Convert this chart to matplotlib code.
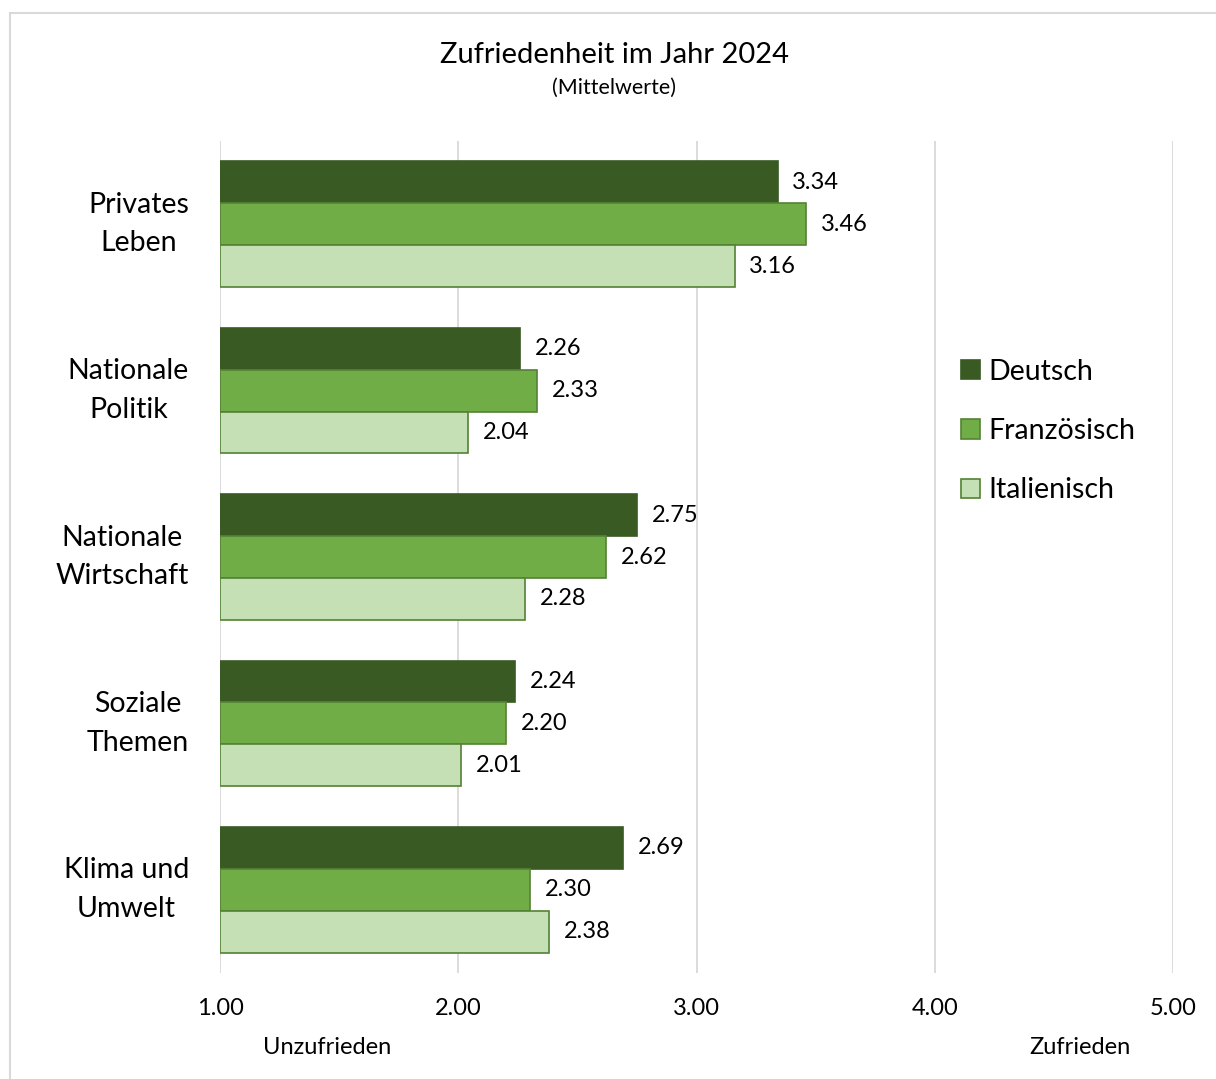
import matplotlib.pyplot as plt
import matplotlib.transforms as mtransforms
import numpy as np
from matplotlib.patches import Rectangle

plt.rcParams['font.family'] = ['Lato', 'DejaVu Sans']

categories = ["Privates\nLeben", "Nationale\nPolitik", "Nationale\nWirtschaft",
              "Soziale\nThemen", "Klima und\nUmwelt"]
series = ["Deutsch", "Französisch", "Italienisch"]
deutsch = [3.34, 2.26, 2.75, 2.24, 2.69]
franz = [3.46, 2.33, 2.62, 2.20, 2.30]
ital = [3.16, 2.04, 2.28, 2.01, 2.38]
xticks = [1.0, 2.0, 3.0, 4.0, 5.0]

colors = ["#3A5A24", "#70AD47", "#C5E0B4"]
edges = ["#3A5A24", "#548235", "#548235"]

fig = plt.figure(figsize=(12.16, 10.79), dpi=100)
ax = fig.add_axes([220 / 1216, 1 - 973 / 1079, (1173 - 220) / 1216, (973 - 141) / 1079])

# chart frame
fig.patches.append(Rectangle((10 / 1216, -0.01), 1.0, 1 - 13 / 1079 + 0.01,
                             transform=fig.transFigure, fill=False,
                             edgecolor="#D9D9D9", linewidth=1.5))

y = np.arange(len(categories))
h = 0.252
for i, (vals, name) in enumerate(zip([deutsch, franz, ital], series)):
    pos = y + (i - 1) * h
    ax.barh(pos, np.array(vals) - 1.0, left=1.0, height=h, color=colors[i],
            edgecolor=edges[i], linewidth=1.2, label=name, zorder=3)
    for p, v in zip(pos, vals):
        ax.text(v + 0.062, p, f"{v:.2f}", va="center", ha="left", fontsize=17, color="#000000")

ax.set_xlim(1.0, 5.0)
ax.set_ylim(len(categories) - 0.5, -0.5)
ax.set_xticks(xticks)
ax.set_xticklabels([f"{t:.2f}" for t in xticks], fontsize=17)
ax.set_yticks(y)
ax.set_yticklabels([])

# category labels, centred lines, block right-aligned next to the axis
trans = mtransforms.blended_transform_factory(ax.transAxes, ax.transData)
for yy, cat in zip(y, categories):
    ax.text(-31 / 953, yy, cat, transform=trans, ha="right", va="center",
            multialignment="center", fontsize=20.5, linespacing=1.6)

ax.tick_params(axis="y", length=0)
ax.tick_params(axis="x", length=0, pad=18)
ax.grid(axis="x", color="#D9D9D9", linewidth=1.3, zorder=0)
for s in ax.spines.values():
    s.set_visible(False)

fig.text(614 / 1216, 1 - 55 / 1079, "Zufriedenheit im Jahr 2024", ha="center", va="center", fontsize=21)
fig.text(614 / 1216, 1 - 88 / 1079, "(Mittelwerte)", ha="center", va="center", fontsize=15.5)
fig.text(327 / 1216, 1 - 1047 / 1079, "Unzufrieden", ha="center", va="center", fontsize=17)
fig.text(1080 / 1216, 1 - 1047 / 1079, "Zufrieden", ha="center", va="center", fontsize=17)

ax.legend(loc="center left", bbox_to_anchor=(961 / 1216, 1 - 431 / 1079),
          bbox_transform=fig.transFigure, frameon=False, fontsize=20.5,
          handlelength=0.65, handleheight=0.65, handletextpad=0.3, labelspacing=1.17,
          borderpad=0, borderaxespad=0)

fig.savefig("out.png", dpi=100)
